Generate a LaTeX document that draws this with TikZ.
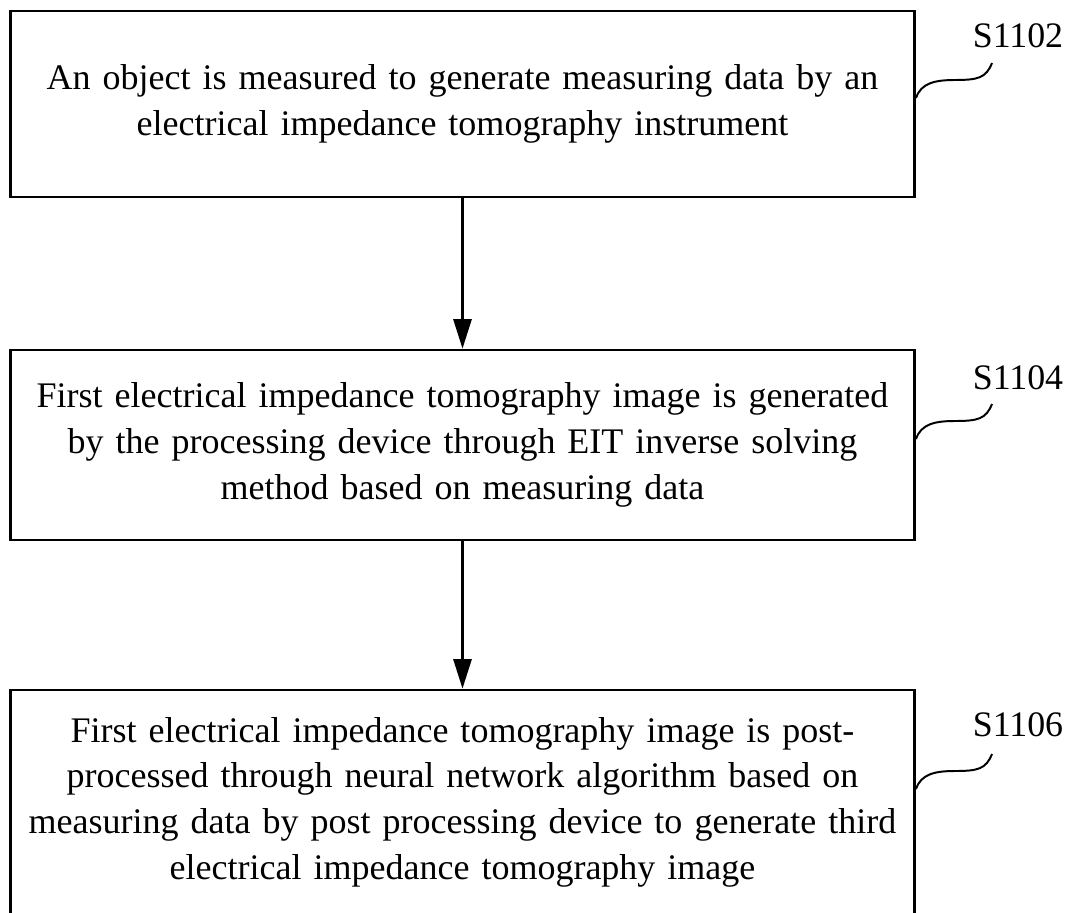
\documentclass[tikz,border=0pt]{standalone}
\usepackage{fontspec}
\setmainfont{Liberation Serif}
\usetikzlibrary{arrows.meta}

\tikzset{
  stepbox/.style={draw,line width=2pt,minimum width=22.6cm,text width=22cm,
    align=center,inner sep=0pt,font=\fontsize{25.6}{32.5}\selectfont},
  steplabel/.style={font=\fontsize{25.5}{30}\selectfont,inner sep=0pt},
  flow/.style={line width=1.5pt,-{Triangle[width=13pt,length=21pt]}},
  wiggle/.style={line width=1.4pt}
}

\begin{document}
\begin{tikzpicture}[x=0.025cm,y=-0.025cm]
		\useasboundingbox (0,0) rectangle (1073,913);
		\node[stepbox,minimum height=4.65cm] (s1) at (462.5,104) {An object is measured to generate measuring data by an\\electrical impedance tomography instrument};
		\node[stepbox,minimum height=4.75cm] (s2) at (462.5,445) {First electrical impedance tomography image is generated\\by the processing device through EIT inverse solving\\method based on measuring data};
		\node[stepbox,minimum height=5.6cm] (s3) at (462.5,802) {First electrical impedance tomography image is post-\\processed through neural network algorithm based on\\measuring data by post processing device to generate third\\electrical impedance tomography image};
		\draw[flow] (s1) -- (s2);
		\draw[flow] (s2) -- (s3);
		% step numbers
		\node[steplabel] (l1) at (1018,36) {S1102};
		\node[steplabel] (l2) at (1018,378) {S1104};
		\node[steplabel] (l3) at (1018,725) {S1106};
		\coordinate (e1) at (992,63);
		\coordinate (e2) at (992,404);
		\coordinate (e3) at (992,754);
		\draw[wiggle] (s1.east |- 0,98) .. controls (921,83) and (935,80) .. (955,80) .. controls (978,80) and (986,78) .. (e1);
		\draw[wiggle] (s2.east |- 0,439) .. controls (921,424) and (935,421) .. (955,421) .. controls (978,421) and (986,419) .. (e2);
		\draw[wiggle] (s3.east |- 0,789) .. controls (921,774) and (935,771) .. (955,771) .. controls (978,771) and (986,769) .. (e3);
		\end{tikzpicture}
\end{document}
